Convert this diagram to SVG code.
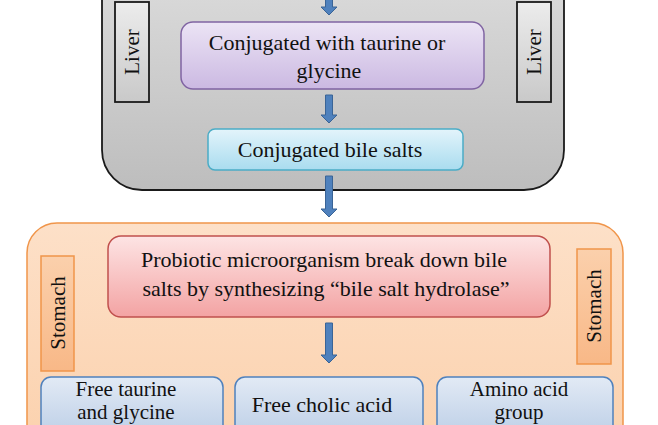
<svg xmlns="http://www.w3.org/2000/svg" width="658" height="425" viewBox="0 0 658 425">
<defs>
<linearGradient id="gGrey" x1="0" y1="0" x2="0" y2="1"><stop offset="0" stop-color="#e0e0e0"/><stop offset="1" stop-color="#bdbdbd"/></linearGradient>
<linearGradient id="gLiver" x1="0" y1="0" x2="0" y2="1"><stop offset="0" stop-color="#ececec"/><stop offset="1" stop-color="#c9c9c9"/></linearGradient>
<linearGradient id="gPurple" x1="0" y1="0" x2="0" y2="1"><stop offset="0" stop-color="#ece4f5"/><stop offset="1" stop-color="#cbb9e2"/></linearGradient>
<linearGradient id="gCyan" x1="0" y1="0" x2="0" y2="1"><stop offset="0" stop-color="#e3f4fb"/><stop offset="1" stop-color="#a9dcef"/></linearGradient>
<linearGradient id="gOrange" x1="0" y1="0" x2="0" y2="1"><stop offset="0" stop-color="#fde0c8"/><stop offset="1" stop-color="#fbcfa9"/></linearGradient>
<linearGradient id="gRed" x1="0" y1="0" x2="0" y2="1"><stop offset="0" stop-color="#fde4e4"/><stop offset="1" stop-color="#f3a3a3"/></linearGradient>
<linearGradient id="gStom" x1="0" y1="0" x2="0" y2="1"><stop offset="0" stop-color="#fbd0ac"/><stop offset="1" stop-color="#f8b887"/></linearGradient>
<linearGradient id="gBlue" x1="0" y1="0" x2="0" y2="1"><stop offset="0" stop-color="#e2eaf5"/><stop offset="1" stop-color="#b6cae4"/></linearGradient>
</defs>
<style>
text{font-family:"Liberation Serif","Times New Roman",serif;font-size:22px;fill:#111;text-anchor:middle}
.side{font-size:21px}
.small{font-size:21px}
.arrow{fill:#4f81bd;stroke:#3a6496;stroke-width:1}
</style>
<rect width="658" height="425" fill="#ffffff"/>
<g id="liver-region">
<rect x="102" y="-60" width="462" height="250" rx="40" fill="url(#gGrey)" stroke="#1a1a1a" stroke-width="1.8"/>
</g>
<g id="liver-left">
<rect x="115" y="2" width="34" height="100" fill="url(#gLiver)" stroke="#1a1a1a" stroke-width="1.8"/>
<text class="side" transform="translate(139 52) rotate(-90)">Liver</text>
</g>
<g id="liver-right">
<rect x="517" y="2" width="34" height="100" fill="url(#gLiver)" stroke="#1a1a1a" stroke-width="1.8"/>
<text class="side" transform="translate(541 52) rotate(-90)">Liver</text>
</g>
<g id="conjugated-with">
<rect x="181" y="22" width="303" height="67" rx="12" fill="url(#gPurple)" stroke="#8064a2" stroke-width="1.5"/>
<text x="327" y="50">Conjugated with taurine or</text>
<text x="329" y="78">glycine</text>
</g>
<g id="conjugated-bile-salts">
<rect x="208" y="129" width="255" height="41" rx="7" fill="url(#gCyan)" stroke="#4bacc6" stroke-width="1.5"/>
<text x="330" y="157">Conjugated bile salts</text>
</g>
<g id="stomach-region">
<rect x="27" y="223" width="596" height="260" rx="30" fill="url(#gOrange)" stroke="#f0954a" stroke-width="1.5"/>
</g>
<g id="stomach-left">
<rect x="41" y="256" width="33" height="115" fill="url(#gStom)" stroke="#f0954a" stroke-width="1.5"/>
<text class="side" transform="translate(65 313) rotate(-90)">Stomach</text>
</g>
<g id="stomach-right">
<rect x="577" y="249" width="34" height="115" fill="url(#gStom)" stroke="#f0954a" stroke-width="1.5"/>
<text class="side" transform="translate(601 306) rotate(-90)">Stomach</text>
</g>
<g id="probiotic">
<rect x="108" y="236" width="442" height="81" rx="13" fill="url(#gRed)" stroke="#c0504d" stroke-width="1.5"/>
<text x="324" y="267">Probiotic microorganism break down bile</text>
<text x="326" y="296">salts by synthesizing “bile salt hydrolase”</text>
</g>
<g id="free-taurine">
<rect x="41" y="377" width="182" height="70" rx="10" fill="url(#gBlue)" stroke="#4f81bd" stroke-width="1.5"/>
<text class="small" x="126" y="396">Free taurine</text>
<text class="small" x="126" y="419">and glycine</text>
</g>
<g id="free-cholic">
<rect x="235" y="377" width="188" height="70" rx="10" fill="url(#gBlue)" stroke="#4f81bd" stroke-width="1.5"/>
<text x="322" y="412">Free cholic acid</text>
</g>
<g id="amino-acid">
<rect x="437" y="377" width="176" height="70" rx="10" fill="url(#gBlue)" stroke="#4f81bd" stroke-width="1.5"/>
<text class="small" x="519" y="396">Amino acid</text>
<text class="small" x="519" y="419">group</text>
</g>
<g id="connectors">
<path class="arrow" d="M325.5 -10 H332.5 V7 H337 L329 15 L321 7 H325.5 Z"/>
<path class="arrow" d="M325.5 95 H332.5 V115 H337 L329 123 L321 115 H325.5 Z"/>
<path class="arrow" d="M325.5 176 H332.5 V209 H337 L329 217 L321 209 H325.5 Z"/>
<path class="arrow" d="M325.5 323 H332.5 V355 H337 L329 363 L321 355 H325.5 Z"/>
</g>
</svg>
